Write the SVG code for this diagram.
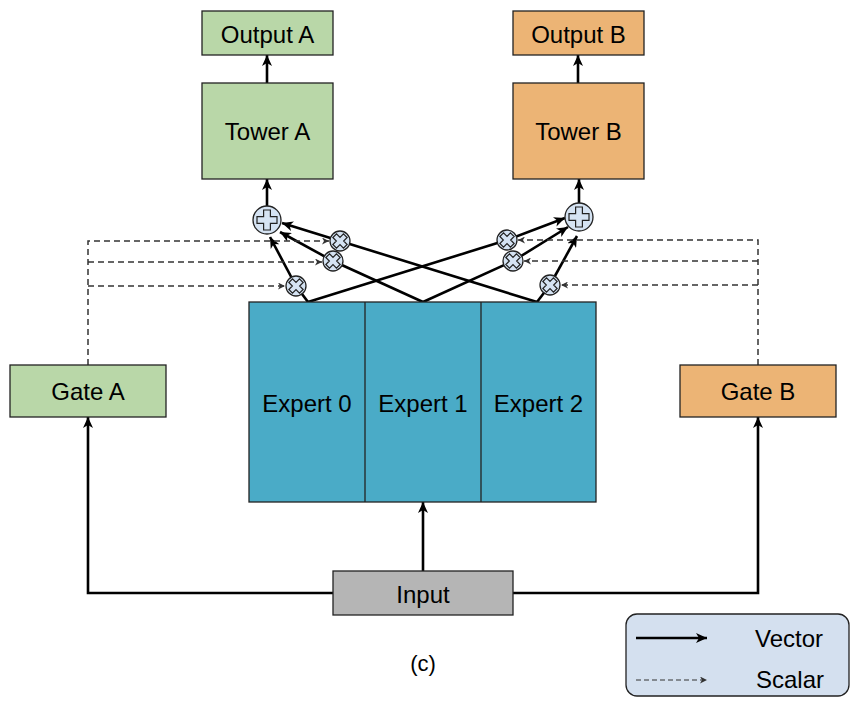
<svg xmlns="http://www.w3.org/2000/svg" width="858" height="724" viewBox="0 0 858 724">
<style>
.box{stroke:#222;stroke-width:1.3}
.green{fill:#b9d7a8}
.orange{fill:#ecb475}
.teal{fill:#4aabc7}
.gray{fill:#b5b5b5}
.t{font-family:"Liberation Sans",Arial,sans-serif;font-size:24px;fill:#000;text-anchor:middle}
.solid{fill:none;stroke:#000;stroke-width:2.6;marker-end:url(#ah)}
.plain{fill:none;stroke:#000;stroke-width:2.6}
.dash{fill:none;stroke:#333;stroke-width:1.5;stroke-dasharray:6 4;marker-end:url(#dh)}
.circ{fill:#d5e3f3;stroke:#222;stroke-width:1.3}
.glyph{fill:#d5e3f3;stroke:#222;stroke-width:1.2}
</style>
<defs>
<marker id="ah" markerUnits="userSpaceOnUse" markerWidth="12" markerHeight="10" refX="11" refY="5" orient="auto">
<path d="M0,0 L11,5 L0,10 L3,5 z" fill="#000"/>
</marker>
<marker id="dh" markerUnits="userSpaceOnUse" markerWidth="8" markerHeight="7" refX="7" refY="3.5" orient="auto">
<path d="M0,0 L7,3.5 L0,7 L2,3.5 z" fill="#333"/>
</marker>
<g id="mul">
<circle r="10" class="circ"/>
<path class="glyph" transform="rotate(45)" d="M-2.6,-7.5 h5.2 v4.9 h4.9 v5.2 h-4.9 v4.9 h-5.2 v-4.9 h-4.9 v-5.2 h4.9 z"/>
</g>
<g id="add">
<circle r="14" class="circ"/>
<path class="glyph" d="M-3.4,-10 h6.8 v6.6 h6.6 v6.8 h-6.6 v6.6 h-6.8 v-6.6 h-6.6 v-6.8 h6.6 z"/>
</g>
</defs>

<g id="connectors">
<path class="solid" d="M267,83 V55"/>
<path class="solid" d="M578,83 V55"/>
<path class="solid" d="M267,206 V179"/>
<path class="solid" d="M579,203 V179"/>
<path class="plain" d="M308,302 L296,286"/>
<path class="plain" d="M308,302 L507,240"/>
<path class="plain" d="M423,302 L333,261"/>
<path class="plain" d="M423,302 L513,261"/>
<path class="plain" d="M537,302 L340,241"/>
<path class="plain" d="M537,302 L550,285"/>
<path class="solid" d="M340,241 L282,223"/>
<path class="solid" d="M333,261 L280,232"/>
<path class="solid" d="M296,286 L270,237"/>
<path class="solid" d="M507,240 L565,218"/>
<path class="solid" d="M513,261 L568,227"/>
<path class="solid" d="M550,285 L577,236"/>
<path class="dash" d="M88,365 V241 H329"/>
<path class="dash" d="M88,262 H322"/>
<path class="dash" d="M88,286 H285"/>
<path class="dash" d="M758,365 V240 H518"/>
<path class="dash" d="M758,261 H524"/>
<path class="dash" d="M758,285 H561"/>
<path class="solid" d="M333,593 H88 V417"/>
<path class="solid" d="M513,593 H758 V417"/>
<path class="solid" d="M423,571 V502"/>
</g>

<g id="output-a"><rect class="box green" x="202" y="11" width="131" height="44"/><text class="t" x="267.5" y="43">Output A</text></g>
<g id="tower-a"><rect class="box green" x="202" y="83" width="131" height="96"/><text class="t" x="267.5" y="140">Tower A</text></g>
<g id="output-b"><rect class="box orange" x="513" y="11" width="131" height="44"/><text class="t" x="578.5" y="43">Output B</text></g>
<g id="tower-b"><rect class="box orange" x="513" y="83" width="131" height="96"/><text class="t" x="578.5" y="140">Tower B</text></g>

<g id="adder-a"><use href="#add" x="267" y="220"/></g>
<g id="adder-b"><use href="#add" x="579" y="217"/></g>
<g id="mult-a1"><use href="#mul" x="340" y="241"/></g>
<g id="mult-a2"><use href="#mul" x="333" y="261"/></g>
<g id="mult-a3"><use href="#mul" x="296" y="286"/></g>
<g id="mult-b1"><use href="#mul" x="507" y="240"/></g>
<g id="mult-b2"><use href="#mul" x="513" y="261"/></g>
<g id="mult-b3"><use href="#mul" x="550" y="285"/></g>

<g id="gate-a"><rect class="box green" x="10" y="365" width="156" height="52"/><text class="t" x="88" y="400">Gate A</text></g>
<g id="gate-b"><rect class="box orange" x="680" y="365" width="156" height="52"/><text class="t" x="758" y="400">Gate B</text></g>

<g id="experts">
<rect class="box teal" x="249" y="302" width="347" height="200"/>
<line x1="365" y1="302" x2="365" y2="502" stroke="#222" stroke-width="1.3"/>
<line x1="481" y1="302" x2="481" y2="502" stroke="#222" stroke-width="1.3"/>
<text class="t" x="307" y="412">Expert 0</text>
<text class="t" x="423" y="412">Expert 1</text>
<text class="t" x="538.5" y="412">Expert 2</text>
</g>

<g id="input"><rect class="box gray" x="333" y="571" width="180" height="44"/><text class="t" x="423" y="603">Input</text></g>

<text class="t" x="423" y="671" style="font-size:22px">(c)</text>

<g id="legend">
<rect x="626" y="614" width="223" height="82" rx="11" fill="#d4e0ef" stroke="#222" stroke-width="1.3"/>
<path class="solid" d="M636,638 H707"/>
<path fill="none" stroke="#333" stroke-width="1.1" stroke-dasharray="5 3" marker-end="url(#dh)" d="M636,680 H707"/>
<text class="t" x="789" y="647">Vector</text>
<text class="t" x="790" y="688">Scalar</text>
</g>
</svg>
